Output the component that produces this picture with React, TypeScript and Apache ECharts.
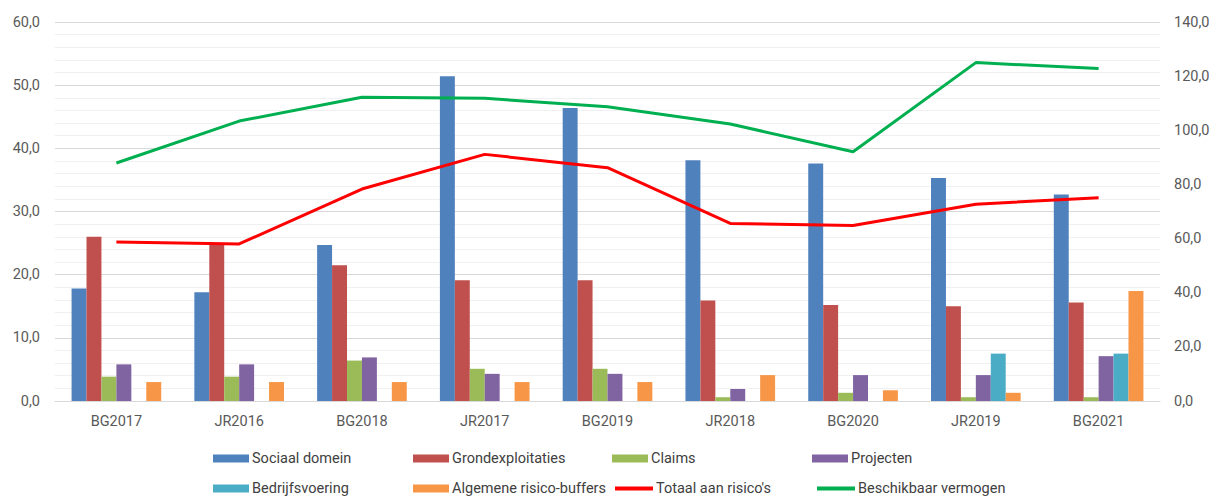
import React, { useEffect, useRef } from "react";
import * as echarts from "echarts";

const categories = ["BG2017", "JR2016", "BG2018", "JR2017", "BG2019", "JR2018", "BG2020", "JR2019", "BG2021"];
const sociaalDomein = [17.8, 17.2, 24.7, 51.4, 46.4, 38.1, 37.6, 35.3, 32.7];
const grondexploitaties = [26.0, 25.0, 21.5, 19.1, 19.1, 15.9, 15.2, 15.0, 15.6];
const claims = [3.85, 3.85, 6.4, 5.1, 5.1, 0.6, 1.3, 0.6, 0.6];
const projecten = [5.8, 5.8, 6.9, 4.3, 4.3, 1.9, 4.1, 4.1, 7.1];
const bedrijfsvoering = [null, null, null, null, null, null, null, 7.5, 7.5];
const algemeneBuffers = [3.0, 3.0, 3.0, 3.0, 3.0, 4.1, 1.7, 1.3, 17.4];
const totaalRisicos = [58.7, 58.0, 78.3, 91.1, 86.2, 65.6, 64.8, 72.7, 75.1];
const beschikbaarVermogen = [87.9, 103.4, 112.2, 111.8, 108.7, 102.3, 92.1, 125.0, 122.8];

const names = [
  "Sociaal domein",
  "Grondexploitaties",
  "Claims",
  "Projecten",
  "Bedrijfsvoering",
  "Algemene risico-buffers",
  "Totaal aan risico's",
  "Beschikbaar vermogen",
];
const colors = ["#4F81BD", "#C0504D", "#9BBB59", "#8064A2", "#4BACC6", "#F79646", "#FF0000", "#00B050"];

const FONT = "Roboto";
const FS = 14.5;
const fmt = (v: number) => v.toFixed(1).replace(".", ",");

export default function App() {
  const ref = useRef<HTMLDivElement>(null);
  useEffect(() => {
    if (!ref.current) return;
    const chart = echarts.init(ref.current, null, { renderer: "svg" });
    const barData = [sociaalDomein, grondexploitaties, claims, projecten, bedrijfsvoering, algemeneBuffers];
    const series: any[] = barData.map((d, i) => ({
      name: names[i],
      type: "bar",
      data: d,
      yAxisIndex: 0,
      barGap: "0%",
      barCategoryGap: "27%",
      itemStyle: { color: colors[i] },
    }));
    series.push({
      name: names[6],
      type: "line",
      data: totaalRisicos,
      yAxisIndex: 1,
      showSymbol: false,
      lineStyle: { color: colors[6], width: 3 },
      itemStyle: { color: colors[6] },
      z: 5,
    });
    series.push({
      name: names[7],
      type: "line",
      data: beschikbaarVermogen,
      yAxisIndex: 1,
      showSymbol: false,
      lineStyle: { color: colors[7], width: 3 },
      itemStyle: { color: colors[7] },
      z: 5,
    });
    const legendPos = [
      [213, 451],
      [413, 451],
      [612, 451],
      [812, 451],
      [213, 481],
      [413, 481],
      [615, 481],
      [817, 481],
    ];
    const legends = names.map((n, i) => ({
      data: [{ name: n, icon: "rect" }],
      left: legendPos[i][0],
      top: legendPos[i][1],
      padding: 0,
      itemWidth: i >= 6 ? 38 : 36,
      itemHeight: i >= 6 ? 4 : 8,
      itemGap: 0,
      textStyle: { color: "#404040", fontFamily: FONT, fontSize: FS, padding: [0, 0, 0, -2] },
    }));
    chart.setOption({
      animation: false,
      textStyle: { fontFamily: FONT },
      grid: { left: 55, right: 54, top: 22, bottom: 98, containLabel: false },
      legend: legends,
      xAxis: {
        type: "category",
        data: categories,
        axisLine: { lineStyle: { color: "#d9d9d9" } },
        axisTick: { show: false },
        axisLabel: { color: "#595959", fontSize: FS, fontFamily: FONT, margin: 13 },
      },
      yAxis: [
        {
          type: "value",
          min: 0,
          max: 60,
          interval: 10,
          alignTicks: false,
          axisLine: { show: false },
          axisTick: { show: false },
          axisLabel: { color: "#595959", fontSize: FS, fontFamily: FONT, formatter: fmt, margin: 15 },
          splitLine: { lineStyle: { color: "#d9d9d9" } },
          minorTick: { show: false, splitNumber: 5 },
          minorSplitLine: { show: true, lineStyle: { color: "#f0f0f0" } },
        },
        {
          type: "value",
          min: 0,
          max: 140,
          interval: 20,
          alignTicks: false,
          axisLine: { show: false },
          axisTick: { show: false },
          axisLabel: { color: "#595959", fontSize: FS, fontFamily: FONT, formatter: fmt, margin: 14 },
          splitLine: { show: false },
        },
      ],
      series,
    });
    return () => chart.dispose();
  }, []);
  return (
    <div
      ref={ref}
      style={{ position: "absolute", left: 0, top: 0, width: 1214, height: 499 }}
    />
  );
}
